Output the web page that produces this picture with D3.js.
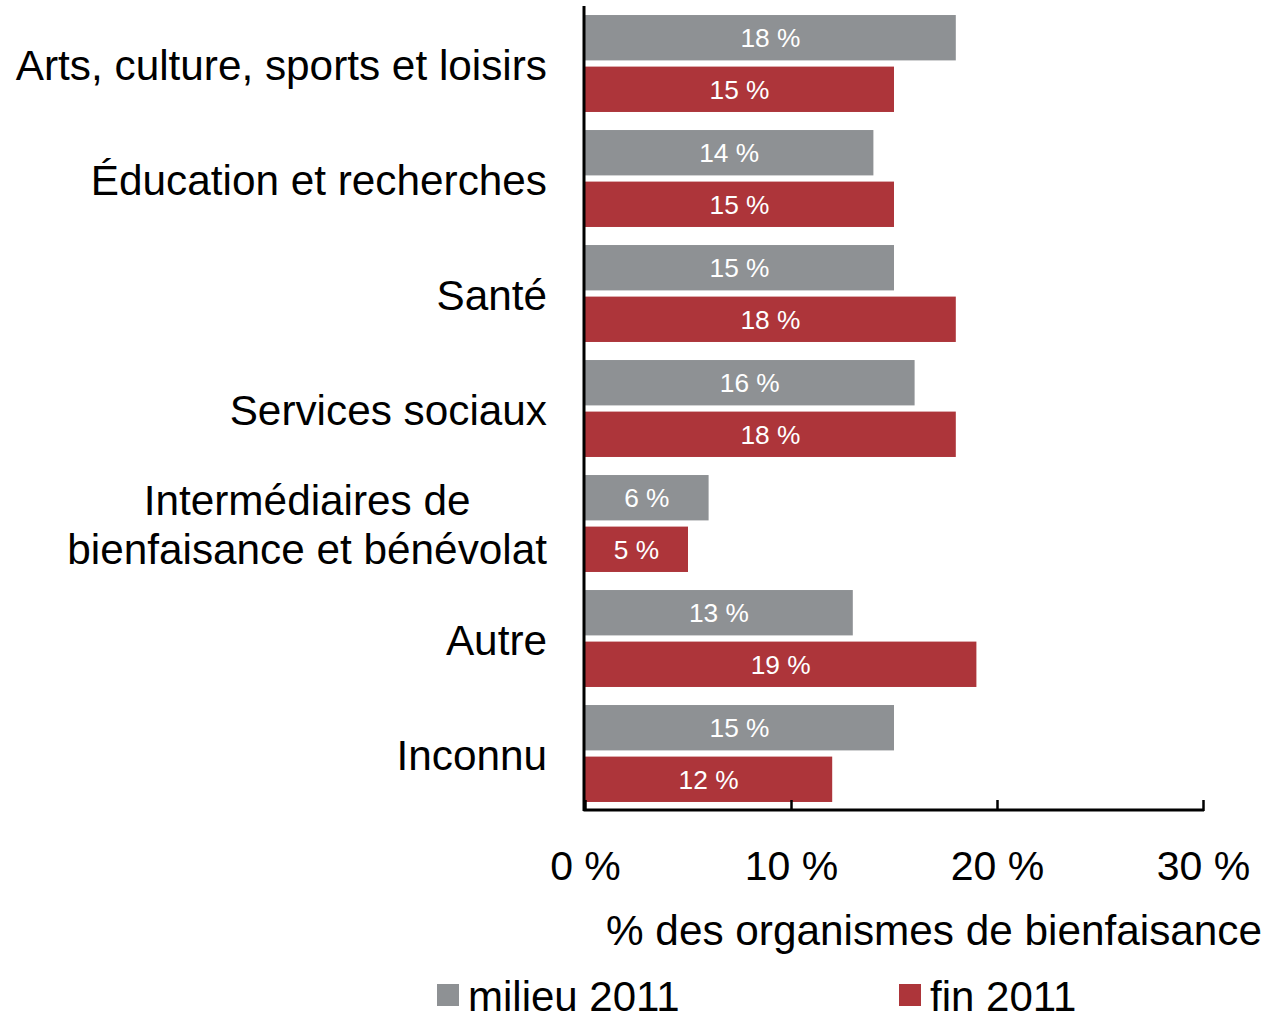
<!DOCTYPE html>
<html>
<head>
<meta charset="utf-8">
<script src="https://cdn.jsdelivr.net/npm/d3@7"></script>
<style>
  html, body { margin: 0; padding: 0; background: #ffffff; }
  svg { display: block; font-family: "Liberation Sans", Arial, sans-serif; }
</style>
</head>
<body>
<svg id="chart" width="1276" height="1018"></svg>
<script>
const categories = [
  ["Arts, culture, sports et loisirs"],
  ["Éducation et recherches"],
  ["Santé"],
  ["Services sociaux"],
  ["Intermédiaires de", "bienfaisance et bénévolat"],
  ["Autre"],
  ["Inconnu"]
];
const seriesNames = ["milieu 2011", "fin 2011"];
const seriesColors = ["#8e9194", "#ad353a"];
const milieu2011 = [18, 14, 15, 16, 6, 13, 15];
const fin2011 = [15, 15, 18, 18, 5, 19, 12];
const xTicks = [0, 10, 20, 30];
const xTitle = "% des organismes de bienfaisance";

const catKeys = categories.map(c => c.join(" "));
const seriesValues = [milieu2011, fin2011];
const rows = catKeys.map((k, i) => ({ key: k, lines: categories[i], values: seriesValues.map(s => s[i]) }));

const svg = d3.select("#chart");
const x = d3.scaleLinear().domain([0, 30]).range([585, 1203]);
const y = d3.scaleBand().domain(catKeys).range([6, 811]).paddingInner(0.157).paddingOuter(0.0785);
const ySub = d3.scaleBand().domain(seriesNames).range([0, y.bandwidth()]).paddingInner(0.12);

const groups = svg.append("g").selectAll("g").data(rows).join("g")
  .attr("transform", d => `translate(0,${y(d.key)})`);

groups.selectAll("rect").data(d => d.values.map((v, j) => ({ v, s: seriesNames[j], j })))
  .join("rect")
  .attr("x", x(0))
  .attr("y", d => ySub(d.s))
  .attr("width", d => x(d.v) - x(0))
  .attr("height", ySub.bandwidth())
  .attr("fill", d => seriesColors[d.j]);

groups.selectAll("text.val").data(d => d.values.map((v, j) => ({ v, s: seriesNames[j], j })))
  .join("text")
  .attr("class", "val")
  .attr("x", d => (x(0) + x(d.v)) / 2)
  .attr("y", d => ySub(d.s) + ySub.bandwidth() / 2)
  .attr("dy", "0.36em")
  .attr("text-anchor", "middle")
  .attr("fill", "#ffffff")
  .attr("font-size", 26.3)
  .text(d => d.v + " %");

// category labels
const labelRight = 547;
const lineH = 49;
const catG = svg.append("g").attr("font-size", 42.3).attr("fill", "#000");
rows.forEach(r => {
  const cy = y(r.key) + y.bandwidth() / 2 + 1;
  const n = r.lines.length;
  const t = catG.append("text");
  if (n === 1) {
    t.attr("x", labelRight).attr("y", cy).attr("dy", "0.36em").attr("text-anchor", "end").text(r.lines[0]);
  } else {
    const tmp = catG.append("text");
    let maxW = 0;
    r.lines.forEach(l => { tmp.text(l); maxW = Math.max(maxW, tmp.node().getComputedTextLength()); });
    tmp.remove();
    const cx = labelRight - maxW / 2;
    t.attr("text-anchor", "middle");
    r.lines.forEach((l, i) => {
      t.append("tspan").attr("x", cx).attr("y", cy + (i - (n - 1) / 2) * lineH).attr("dy", "0.36em").text(l);
    });
  }
});

// x axis
const xAxis = d3.axisBottom(x).tickValues(xTicks).tickSize(0).tickFormat(d => d + " %");
const axG = svg.append("g").attr("transform", "translate(0,811)").call(xAxis);
axG.select(".domain").remove();
axG.selectAll("text").attr("font-size", 41).attr("font-family", "Liberation Sans, Arial, sans-serif").attr("fill", "#000").attr("dy", null).attr("y", 69);
axG.selectAll(".tick").append("line").attr("y1", -11).attr("y2", 0).attr("stroke", "#000").attr("stroke-width", 2.5);
svg.append("line").attr("x1", x(0) - 1.5).attr("x2", x(30) + 1).attr("y1", 810).attr("y2", 810).attr("stroke", "#000").attr("stroke-width", 3);
svg.append("line").attr("x1", x(0) - 1).attr("x2", x(0) - 1).attr("y1", 6).attr("y2", 811).attr("stroke", "#000").attr("stroke-width", 3);

svg.append("text").attr("x", 1262).attr("y", 945).attr("text-anchor", "end").attr("font-size", 42.3).attr("fill", "#000").text(xTitle);

// legend
const legendX = [437, 899];
const leg = svg.append("g").selectAll("g").data(seriesNames).join("g")
  .attr("transform", (d, i) => `translate(${legendX[i]},984)`);
leg.append("rect").attr("width", 22).attr("height", 22).attr("fill", (d, i) => seriesColors[i]);
leg.append("text").attr("x", 31).attr("y", 27).attr("font-size", 42).attr("fill", "#000").text(d => d);
</script>
</body>
</html>
